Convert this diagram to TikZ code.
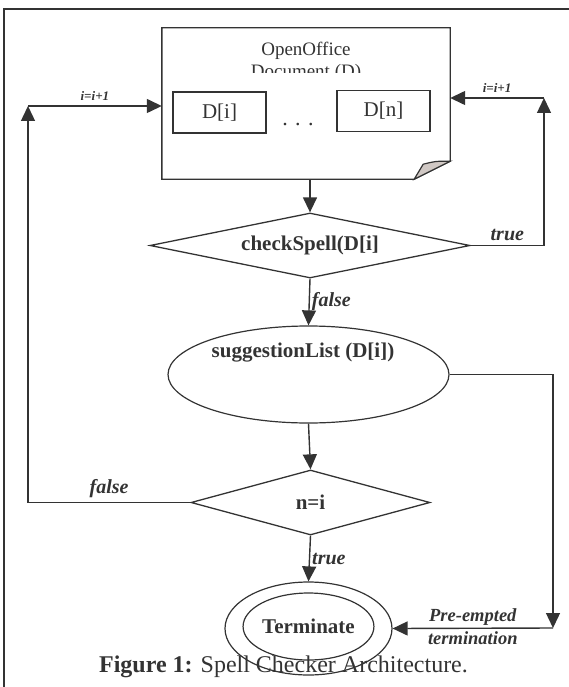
\documentclass[tikz,border=0pt]{standalone}
\usepackage{fontspec}
\setmainfont{Liberation Serif}
\usetikzlibrary{shapes.geometric,arrows.meta}
\definecolor{ink}{RGB}{51,51,51}
\definecolor{foldgray}{RGB}{208,200,196}

\begin{document}
\begin{tikzpicture}
      [%%%%%%%%%%%%%%%%%%%%%%%%%%%%%%
      x=1pt,y=-1pt,
      line/.style={draw=ink,line width=1.4pt},
      arr/.style={line,-{Triangle[length=15pt,width=14pt]}},
      box/.style={rectangle,draw=ink,line width=1.4pt,minimum width=93pt,minimum height=41pt,inner sep=0pt,text=ink,font=\fontsize{21}{24}\selectfont},
      test/.style={diamond,draw=ink,line width=1.3pt,minimum height=65pt,inner sep=0pt,text=ink,font=\fontsize{21}{24}\selectfont\bfseries},
      oval/.style={ellipse,draw=ink,line width=1.2pt,inner sep=0pt,text=ink,font=\fontsize{21}{24}\selectfont\bfseries},
      lbl/.style={text=ink,font=\fontsize{20}{22}\selectfont\bfseries\itshape,inner sep=2pt},
      small/.style={text=ink,font=\fontsize{13}{15}\selectfont\bfseries\itshape,inner sep=2pt},
      ]%%%%%%%%%%%%%%%%%%%%%%%%%%%%%%
      \useasboundingbox (0,0) rectangle (569,687);
      \draw[ink,line width=1.4pt] (4,687) -- (4,9) -- (569,9);

      % document with folded corner
      \node[rectangle,minimum width=288pt,minimum height=151pt,inner sep=0pt] (doc) at (306,103.5) {};
      \draw[line] (doc.north west) -- (doc.north east) -- ([yshift=18pt]doc.south east)
            -- ([xshift=-36pt]doc.south east) -- (doc.south west) -- cycle;
      \filldraw[fill=foldgray,draw=ink,line width=1.2pt] ([xshift=-36pt]doc.south east)
            -- ([xshift=-27pt,yshift=15pt]doc.south east)
            .. controls ([xshift=-15pt,yshift=18pt]doc.south east) .. ([yshift=18pt]doc.south east) -- cycle;
      \node[text=ink,font=\fontsize{19}{22}\selectfont,anchor=base] (title) at (306,56) {OpenOffice};
      \begin{scope}
      \clip (doc.north west) rectangle (450,73);
      \node[text=ink,font=\fontsize{19}{22}\selectfont,anchor=base] (title2) at (306,78) {Document (D)};
      \end{scope}
      \node[box] (di) at (219.5,112.5) {D[i]};
      \node[box] (dn) at (383.5,111) {D[n]};
      \node[text=ink,font=\fontsize{22}{24}\selectfont,inner sep=0pt] (dots) at (298,125) {.\,\,.\,\,.};

      % flow
      \node[test,aspect=4.9,minimum width=320pt] (chk) at (310,245.5) {checkSpell(D[i]};
      \node[oval,minimum width=281pt,minimum height=97pt] (sug) at (308.5,374.5) {};
      \node[text=ink,font=\fontsize{21}{24}\selectfont\bfseries] (sugtxt) at (303,353) {suggestionList (D[i])};
      \node[test,aspect=3.7,minimum width=239pt] (neq) at (310.5,502.5) {n=i};
      \node[oval,minimum width=167pt,minimum height=93pt] (term) at (308.5,628.5) {};
      \node[oval,minimum width=123pt,minimum height=67pt] (termin) at (308.5,626.5) {Terminate};
      \node[text=ink,font=\fontsize{24}{26}\selectfont] (cap) at (283.5,667) {\textbf{Figure 1:} Spell Checker Architecture.};

      \coordinate (lcorner) at (28,106);
      \coordinate (rcorner) at (544,98);
      \coordinate (pcorner) at (553,628);

      \draw[arr] (doc.south -| chk.north) -- (chk.north);
      \draw[arr] (chk.south) -- node[lbl,right] {false} (sug.north);
      \draw[arr] (sug.south) -- (neq.north);
      \draw[arr] (neq.south) -- node[lbl,right] {true} (term.north);

      \draw[arr] (neq.west) -- node[lbl,above=2pt] {false} (lcorner |- neq.west) -- (lcorner);
      \draw[arr] (lcorner) -- node[small,above=3pt] {i=i+1} (lcorner -| doc.west);

      \draw[arr] (chk.east) -- node[lbl,above=2pt] {true} (rcorner |- chk.east) -- (rcorner);
      \draw[arr] (rcorner) -- node[small,above=3pt] {i=i+1} (rcorner -| doc.east);

      \draw[arr] (sug.east) -- (pcorner |- sug.east) -- (pcorner);
      \draw[arr] (pcorner) -- node[lbl,font=\fontsize{18.5}{20}\selectfont\bfseries\itshape,above] {Pre-empted}
            node[lbl,font=\fontsize{18.5}{20}\selectfont\bfseries\itshape,below=1pt] {termination} (term.east);
\end{tikzpicture}
\end{document}
